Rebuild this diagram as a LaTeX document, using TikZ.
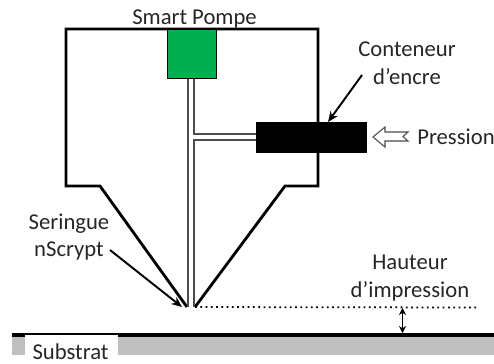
\documentclass[tikz,border=0pt]{standalone}
\usepackage{fontspec}
\setmainfont{Carlito}
\usetikzlibrary{arrows.meta}
\definecolor{pompegreen}{HTML}{00B050}
\tikzset{
  lbl/.style={font=\fontsize{12.9}{15.9}\selectfont,text=black!85,inner sep=0pt,align=center},
  pointer/.style={line width=1.1pt,-{Stealth[length=6pt,width=5pt]}},
  tube/.style={line width=0.8pt,draw=black!70},
}
\begin{document}
\begin{tikzpicture}[x=0.02cm,y=-0.02cm]
\useasboundingbox (0,0) rectangle (494,363);

% substrate
\fill[black!25] (12,337) rectangle (494,355);
\fill[black] (12,333) rectangle (494,337);
\node[fill=white,minimum width=1.86cm,minimum height=0.56cm,inner sep=0pt] (substratbox) at (71.5,349) {};
\node[lbl] (substrat) at (70.5,351.5) {Substrat};

% body
\coordinate (tipL) at (187,307);
\coordinate (tipR) at (195,307);
\draw[line width=1.6pt,line join=miter] (tipL) -- (100,186) -- (66,186) -- (66,29) -- (318,29) -- (318,186) -- (285,186) -- (tipR);

% tubes
\draw[tube] (188,78) -- (188,307);
\draw[tube] (194,78) -- (194,134) -- (256,134);
\draw[tube] (256,140) -- (194,140) -- (194,307);

% pump and container
\node[draw=black,fill=pompegreen,minimum size=0.98cm,inner sep=0pt,line width=0.5pt] (pompe) at (191.5,53.5) {};
\node[fill=black,minimum width=2.24cm,minimum height=0.62cm,inner sep=0pt] (conteneur) at (311.5,137) {};

% labels
\node[lbl] (pompeL) at (194.5,19) {Smart Pompe};
\node[lbl] (conteneurL) at (407,63) {Conteneur\\d'encre};
\node[lbl,anchor=west] (pressionL) at (417,137) {Pression};
\node[lbl] (seringueL) at (69,237) {Seringue\\nScrypt};
\node[lbl] (hauteurL) at (410,278) {Hauteur\\d'impression};

% arrows
\coordinate (conteneurA) at (362,75);
\draw[pointer] (conteneurA) -- (328,122);
\coordinate (seringueA) at (110,250);
\draw[pointer] (seringueA) -- (182,307);
\draw[tube,fill=white,line width=0.6pt] (373,137) -- (385,127) -- (385,132) -- (408,132) -- (403,136.5) -- (408,141) -- (385,141) -- (385,147) -- cycle;

% height
\coordinate (dotEnd) at (478,307.5);
\draw[line width=1pt,dotted] (tipR) -- (dotEnd);
\coordinate (hautA) at (402.5,308);
\coordinate (hautB) at (402.5,333);
\draw[line width=0.9pt,{Stealth[length=4pt,width=4pt]}-{Stealth[length=4pt,width=4pt]}] (hautA) -- (hautB);
\end{tikzpicture}
\end{document}
